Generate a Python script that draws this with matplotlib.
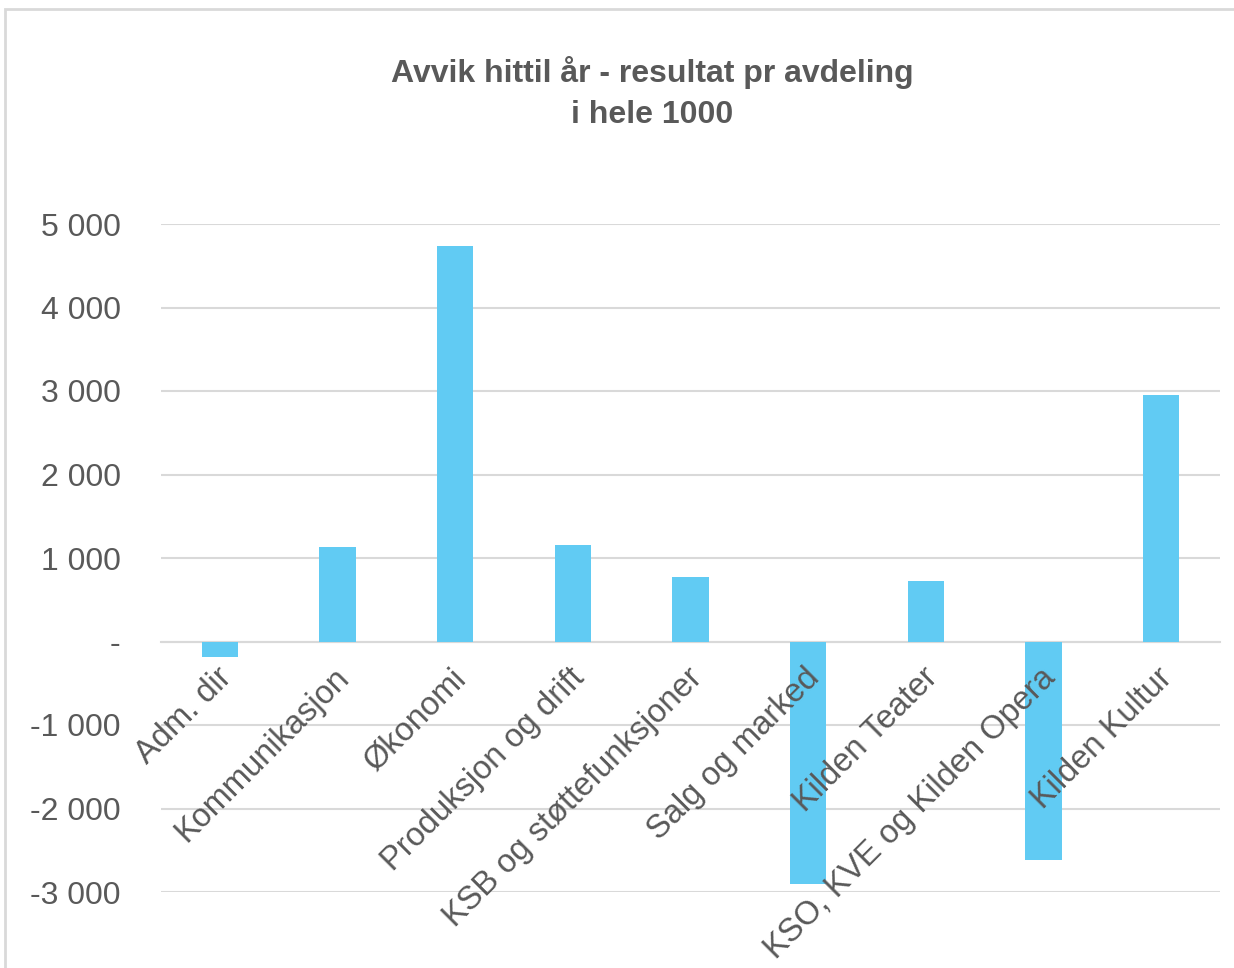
import matplotlib.pyplot as plt
from matplotlib.patches import Rectangle
from matplotlib.ticker import FuncFormatter
from matplotlib.transforms import ScaledTranslation

# data (NOK 1000)
avdelinger = ["Adm. dir", "Kommunikasjon", "Økonomi", "Produksjon og drift",
              "KSB og støttefunksjoner", "Salg og marked", "Kilden Teater",
              "KSO, KVE og Kilden Opera", "Kilden Kultur"]
avvik = [-190, 1135, 4740, 1160, 775, -2905, 730, -2620, 2955]
y_ticks = [-3000, -2000, -1000, 0, 1000, 2000, 3000, 4000, 5000]

grey = "#595959"
grid_col = "#D9D9D9"
bar_col = "#61CBF3"

plt.rcParams["font.family"] = ["Liberation Sans", "DejaVu Sans"]

fig = plt.figure(figsize=(12.34, 9.68), dpi=100)
ax = fig.add_axes([161 / 1234, 1 - 892 / 968, (1220 - 161) / 1234, (892 - 224) / 968])

# chart border like excel
fig.patches.append(Rectangle((5 / 1234, -0.1), 1.2, 1 - 9 / 968 + 0.1, transform=fig.transFigure,
                             fill=False, edgecolor=grid_col, linewidth=2))

x = range(len(avdelinger))
ax.bar(x, avvik, width=0.31, color=bar_col, zorder=2)

ax.set_xlim(-0.5, len(avdelinger) - 0.5)
ax.set_ylim(-3000, 5000)
ax.set_yticks(y_ticks)
ax.yaxis.set_major_formatter(FuncFormatter(lambda v, p: "-" if v == 0 else f"{v:,.0f}".replace(",", " ")))
ax.yaxis.grid(True, color=grid_col, linewidth=1.5)
ax.tick_params(axis="y", length=0, pad=29, labelsize=23, labelcolor=grey)
ax.yaxis.set_zorder(0.5)

for s in ["top", "right", "left"]:
    ax.spines[s].set_visible(False)
ax.spines["bottom"].set_position(("data", 0))
ax.spines["bottom"].set_color(grid_col)
ax.spines["bottom"].set_linewidth(1.5)
ax.spines["bottom"].set_zorder(1)

ax.set_xticks(list(x))
ax.set_xticklabels(avdelinger, rotation=45, ha="right", va="top", rotation_mode="anchor")
ax.tick_params(axis="x", length=0, pad=15, labelsize=23.5, labelcolor=grey)
ax.xaxis.set_zorder(5)
shift = ScaledTranslation(-4 / 100, 0, fig.dpi_scale_trans)
for lbl in ax.get_xticklabels():
    lbl.set_transform(lbl.get_transform() + shift)

fig.text(652 / 1234, 1 - 93 / 968, "Avvik hittil år - resultat pr avdeling\ni hele 1000",
         ha="center", va="center", fontsize=23, fontweight="bold", color=grey, linespacing=1.5)

fig.savefig("out.png", dpi=100)
